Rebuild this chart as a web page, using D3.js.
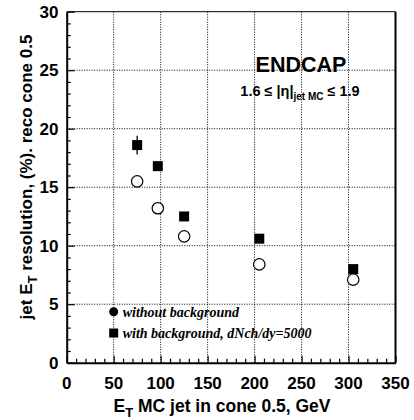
<!DOCTYPE html>
<html>
<head>
<meta charset="utf-8">
<script src="https://cdn.jsdelivr.net/npm/d3@7"></script>
<style>
body { margin: 0; background: #fff; }
text { font-family: "Liberation Sans", Arial, sans-serif; }
</style>
</head>
<body>
<script>
var w = 414, h = 420;

// data
var etJet = [75, 97, 125, 205, 305];
var resNoBkg = [15.5, 13.2, 10.8, 8.4, 7.1];
var resBkg = [18.6, 16.8, 12.5, 10.6, 8.0];
var errBkg = [0.8, 0, 0, 0, 0];
var xTicks = [0, 50, 100, 150, 200, 250, 300, 350];
var yTicks = [0, 5, 10, 15, 20, 25, 30];
var legendLabels = ["without background", "with background, dNch/dy=5000"];

var svg = d3.select("body")
    .append("svg")
    .attr("width", w)
    .attr("height", h);

var xScale = d3.scaleLinear()
    .domain([0, 350])
    .range([66.7, 395.5]);

var yScale = d3.scaleLinear()
    .domain([0, 30])
    .range([362.7, 11.7]);

// dotted grid
svg.append("g")
    .selectAll("line")
    .data(xTicks.filter(d => d > 0 && d < 350))
    .enter().append("line")
    .attr("x1", d => xScale(d)).attr("x2", d => xScale(d))
    .attr("y1", yScale(0)).attr("y2", yScale(30))
    .style("stroke", "#000")
    .style("stroke-width", 1)
    .style("stroke-dasharray", "1,1.5");

svg.append("g")
    .selectAll("line")
    .data(yTicks.filter(d => d > 0 && d < 30))
    .enter().append("line")
    .attr("x1", xScale(0)).attr("x2", xScale(350))
    .attr("y1", d => yScale(d)).attr("y2", d => yScale(d))
    .style("stroke", "#000")
    .style("stroke-width", 1)
    .style("stroke-dasharray", "1,1.5");

// frame
svg.append("line")
    .attr("x1", xScale(0)).attr("x2", xScale(350))
    .attr("y1", yScale(30)).attr("y2", yScale(30))
    .style("stroke", "#000").style("stroke-width", 1);
svg.append("line")
    .attr("x1", xScale(350)).attr("x2", xScale(350))
    .attr("y1", yScale(30)).attr("y2", yScale(0))
    .style("stroke", "#000").style("stroke-width", 2);

// axes: ticks point inward, minor every 1 / 10 units
var xAxis = d3.axisTop(xScale)
    .tickValues(d3.range(0, 351, 10))
    .tickSize(0)
    .tickFormat("");
var gx = svg.append("g")
    .attr("transform", "translate(0," + yScale(0) + ")")
    .call(xAxis);
gx.select(".domain").style("stroke-width", 2);
gx.selectAll(".tick line")
    .attr("y2", d => d % 50 === 0 ? -7 : -4)
    .style("stroke-width", 1.2);

var yAxis = d3.axisRight(yScale)
    .tickValues(d3.range(0, 31, 1))
    .tickSize(0)
    .tickFormat("");
var gy = svg.append("g")
    .attr("transform", "translate(" + xScale(0) + ",0)")
    .call(yAxis);
gy.select(".domain").style("stroke-width", 2);
gy.selectAll(".tick line")
    .attr("x2", d => d % 5 === 0 ? 8 : 4)
    .style("stroke-width", 1.2);

// tick labels
svg.append("g")
    .selectAll("text")
    .data(xTicks)
    .enter().append("text")
    .attr("x", d => xScale(d))
    .attr("y", 389)
    .attr("text-anchor", "middle")
    .style("font-weight", "bold")
    .style("font-size", "17px")
    .text(d => d);

svg.append("g")
    .selectAll("text")
    .data(yTicks)
    .enter().append("text")
    .attr("x", 58.5)
    .attr("y", d => yScale(d) + 6)
    .attr("text-anchor", "end")
    .style("font-weight", "bold")
    .style("font-size", "17px")
    .text(d => d);

// axis titles
var xt = svg.append("text")
    .attr("x", 222)
    .attr("y", 412)
    .attr("text-anchor", "middle")
    .style("font-weight", "bold")
    .style("font-size", "17.5px");
xt.append("tspan").text("E");
xt.append("tspan").attr("dy", 5).style("font-size", "13px").text("T");
xt.append("tspan").attr("dy", -5).text(" MC jet in cone 0.5, GeV");

var yt = svg.append("text")
    .attr("transform", "translate(32,177) rotate(-90)")
    .attr("text-anchor", "middle")
    .style("font-weight", "bold")
    .style("font-size", "17px");
yt.append("tspan").text("jet E");
yt.append("tspan").attr("dy", 5).style("font-size", "13px").text("T");
yt.append("tspan").attr("dy", -5).text(" resolution, (%). reco cone 0.5");

// labels inside the frame
svg.append("text")
    .attr("x", 301)
    .attr("y", 72)
    .attr("text-anchor", "middle")
    .style("font-weight", "bold")
    .style("font-size", "21.5px")
    .text("ENDCAP");

var eta = svg.append("text")
    .attr("x", 300)
    .attr("y", 96)
    .attr("text-anchor", "middle")
    .style("font-weight", "bold")
    .style("font-size", "14.5px");
eta.append("tspan").text("1.6 \u2264 |\u03b7|");
eta.append("tspan").attr("dy", 4).style("font-size", "10px").text("jet MC");
eta.append("tspan").attr("dy", -4).text(" \u2264 1.9");

// error bars
svg.append("g")
    .selectAll("line")
    .data(etJet.map((x, i) => [x, resBkg[i], errBkg[i]]).filter(d => d[2] > 0))
    .enter().append("line")
    .attr("x1", d => xScale(d[0])).attr("x2", d => xScale(d[0]))
    .attr("y1", d => yScale(d[1] + d[2])).attr("y2", d => yScale(d[1] - d[2]))
    .style("stroke", "#000")
    .style("stroke-width", 1.3);

// with background: filled squares
svg.append("g")
    .selectAll("rect")
    .data(etJet.map((x, i) => [x, resBkg[i]]))
    .enter().append("rect")
    .attr("x", d => xScale(d[0]) - 5)
    .attr("y", d => yScale(d[1]) - 5)
    .attr("width", 10)
    .attr("height", 10)
    .style("fill", "#000");

// without background: open circles
svg.append("g")
    .selectAll("circle")
    .data(etJet.map((x, i) => [x, resNoBkg[i]]))
    .enter().append("circle")
    .attr("cx", d => xScale(d[0]))
    .attr("cy", d => yScale(d[1]))
    .attr("r", 5.7)
    .style("fill", "#fff")
    .style("stroke", "#000")
    .style("stroke-width", 1.2);

// legend
var lx = xScale(50);
svg.append("circle")
    .attr("cx", lx).attr("cy", 311.7).attr("r", 4.5)
    .style("fill", "#000");
svg.append("rect")
    .attr("x", lx - 4.5).attr("y", 328.5).attr("width", 9).attr("height", 9)
    .style("fill", "#000");
svg.append("g")
    .selectAll("text")
    .data(legendLabels)
    .enter().append("text")
    .attr("x", lx + 9)
    .attr("y", (d, i) => 316.5 + i * 21.5)
    .style("font-family", "'Liberation Serif', 'Times New Roman', serif")
    .style("font-weight", "bold")
    .style("font-style", "italic")
    .style("font-size", "14px")
    .text(d => d);
</script>
</body>
</html>
